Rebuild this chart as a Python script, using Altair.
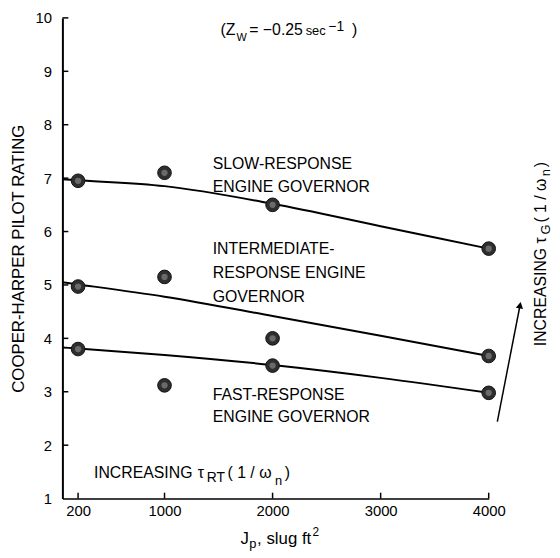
import altair as alt
import pandas as pd

FONT = "Liberation Sans"

# ---- data ----
j_points = [200, 1000, 2000, 4000]
slow_pts = [6.95, 7.10, 6.50, 5.68]
inter_pts = [4.97, 5.15, 4.00, 3.67]
fast_pts = [3.80, 3.12, 3.49, 2.98]

curve_j = [55, 200, 1000, 2000, 3000, 4000]
slow_curve = [6.98, 6.96, 6.85, 6.52, 6.10, 5.68]
inter_curve = [5.05, 5.01, 4.78, 4.42, 4.05, 3.67]
fast_curve = [3.83, 3.81, 3.69, 3.50, 3.26, 2.98]

x_ticks = [200, 1000, 2000, 3000, 4000]
y_ticks = [1, 2, 3, 4, 5, 6, 7, 8, 9, 10]
y_inner_ticks = [2, 3, 4, 5, 6, 7, 8, 9, 10]

arrow_j = [4080, 4290]
arrow_r = [2.44, 4.62]

# annotation pieces: text, J, rating, font size, angle
annotations = [
    ("(Z", 1519, 9.685, 16, 0),
    ("W", 1665, 9.574, 11, 0),
    ("= \u22120.25", 1784, 9.685, 16, 0),
    ("sec", 2306, 9.685, 13, 0),
    ("\u22121", 2516, 9.759, 14, 0),
    (")", 2736, 9.685, 16, 0),
    ("SLOW-RESPONSE", 1446, 7.167, 16, 0),
    ("ENGINE GOVERNOR", 1446, 6.741, 16, 0),
    ("INTERMEDIATE-", 1446, 5.574, 16, 0),
    ("RESPONSE ENGINE", 1446, 5.130, 16, 0),
    ("GOVERNOR", 1446, 4.685, 16, 0),
    ("FAST-RESPONSE", 1446, 2.852, 16, 0),
    ("ENGINE GOVERNOR", 1446, 2.426, 16, 0),
    ("INCREASING", 348, 1.389, 16, 0),
    ("\u03c4", 1308, 1.389, 16, 0),
    ("RT", 1391, 1.315, 14, 0),
    ("( 1 / \u03c9", 1583, 1.389, 16, 0),
    ("n", 2022, 1.259, 13, 0),
    (")", 2113, 1.389, 16, 0),
    ("INCREASING", 4529, 3.852, 16, 270),
    ("\u03c4", 4529, 5.778, 16, 270),
    ("G", 4565, 5.944, 13, 270),
    ("( 1 / \u03c9", 4529, 6.167, 16, 270),
    ("n", 4565, 7.037, 13, 270),
    (")", 4529, 7.204, 16, 270),
    ("J", 1702, 0.148, 17, 0),
    ("p", 1784, 0.074, 13, 0),
    (", slug ft", 1857, 0.148, 17, 0),
    ("2", 2370, 0.296, 12, 0),
]

# ---- tables ----
pts = pd.DataFrame({
    "J": j_points * 3,
    "rating": slow_pts + inter_pts + fast_pts,
    "series": ["slow"] * 4 + ["inter"] * 4 + ["fast"] * 4,
})
curves = pd.DataFrame({
    "J": curve_j * 3,
    "rating": slow_curve + inter_curve + fast_curve,
    "series": ["slow"] * 6 + ["inter"] * 6 + ["fast"] * 6,
    "order": list(range(6)) * 3,
})
ann = pd.DataFrame(annotations, columns=["text", "J", "rating", "size", "angle"])
xt = pd.DataFrame({"J": x_ticks, "r0": [1.0] * len(x_ticks), "r1": [1.11] * len(x_ticks)})
yt = pd.DataFrame({"rating": y_inner_ticks, "j0": [55] * len(y_inner_ticks), "j1": [110] * len(y_inner_ticks)})
arrow = pd.DataFrame({"J": arrow_j, "rating": arrow_r})
arrow_tip = pd.DataFrame({"J": [arrow_j[-1]], "rating": [arrow_r[-1]]})

xscale = alt.Scale(domain=[55, 4000], nice=False, zero=False)
yscale = alt.Scale(domain=[1, 10], nice=False, zero=False)

X = alt.X("J:Q", scale=xscale, axis=alt.Axis(
    values=x_ticks, format="d", title=None, grid=False, ticks=False, tickSize=0,
    labelFont=FONT, labelFontSize=15, labelColor="black", labelPadding=5,
    labelFlush=False, domainColor="black", domainWidth=1.6))
Y = alt.Y("rating:Q", scale=yscale, axis=alt.Axis(
    values=y_ticks, format="d", title="COOPER-HARPER PILOT RATING", grid=False, ticks=False,
    tickSize=0, labelFont=FONT, labelFontSize=15, labelColor="black",
    labelPadding=11, labelFlush=False, domainColor="black", domainWidth=2,
    titleFont=FONT, titleFontSize=17, titleFontWeight="normal",
    titleColor="black", titlePadding=8))

lines = alt.Chart(curves).mark_line(color="black", strokeWidth=2, interpolate="monotone").encode(
    x=X, y=Y, detail="series:N", order="order:Q")

dots = alt.Chart(pts).mark_circle(size=190, color="#2e2e2e", opacity=1, stroke="#111", strokeWidth=1).encode(
    x=alt.X("J:Q", scale=xscale), y=alt.Y("rating:Q", scale=yscale))
dots_in = alt.Chart(pts).mark_circle(size=40, color="#6a6a6a", opacity=1).encode(
    x=alt.X("J:Q", scale=xscale), y=alt.Y("rating:Q", scale=yscale))

xtick_rules = alt.Chart(xt).mark_rule(color="black", strokeWidth=1.5).encode(
    x=alt.X("J:Q", scale=xscale), y=alt.Y("r0:Q", scale=yscale), y2="r1:Q")
ytick_rules = alt.Chart(yt).mark_rule(color="black", strokeWidth=1.5).encode(
    y=alt.Y("rating:Q", scale=yscale), x=alt.X("j0:Q", scale=xscale), x2="j1:Q")

arrow_line = alt.Chart(arrow).mark_line(color="black", strokeWidth=1.5).encode(
    x=alt.X("J:Q", scale=xscale), y=alt.Y("rating:Q", scale=yscale))
arrow_head = alt.Chart(arrow_tip).mark_point(shape="triangle-up", filled=True, size=55,
                                             angle=11, color="black", opacity=1).encode(
    x=alt.X("J:Q", scale=xscale), y=alt.Y("rating:Q", scale=yscale))

texts = alt.Chart(ann).mark_text(align="left", baseline="alphabetic", font=FONT, color="black").encode(
    x=alt.X("J:Q", scale=xscale), y=alt.Y("rating:Q", scale=yscale),
    text="text:N",
    size=alt.Size("size:Q", scale=None),
    angle=alt.Angle("angle:Q", scale=None))

chart = alt.layer(lines, xtick_rules, ytick_rules, dots, dots_in, arrow_line, arrow_head, texts).properties(
    width=431, height=486,
    autosize=alt.AutoSizeParams(type="none"),
    padding={"left": 55, "top": 7, "right": 64, "bottom": 51},
    background="white",
).configure_view(stroke=None)

chart.save("out.html", embed_options={"renderer": "svg", "actions": False})
